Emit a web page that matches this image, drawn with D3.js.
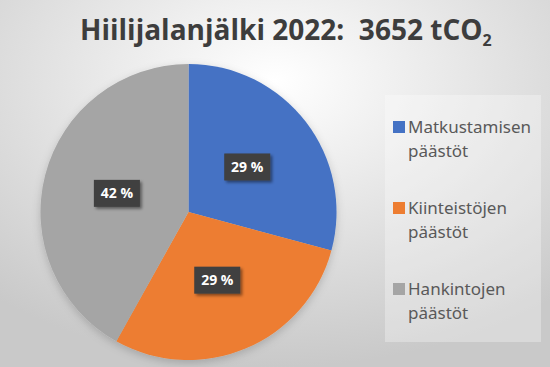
<!DOCTYPE html>
<html>
<head>
<meta charset="utf-8">
<script src="https://cdn.jsdelivr.net/npm/d3@7"></script>
<style>
  html, body { margin: 0; padding: 0; background: #fff; }
  svg { display: block; }
</style>
</head>
<body>
<svg id="chart" width="550" height="367"></svg>
<script>
// categories and values (tCO2)
const categories = ["Matkustamisen päästöt", "Kiinteistöjen päästöt", "Hankintojen päästöt"];
const legendLines = [["Matkustamisen", "päästöt"], ["Kiinteistöjen", "päästöt"], ["Hankintojen", "päästöt"]];
const values = [1066, 1056, 1530];
const colors = ["#4472C4", "#ED7D31", "#A5A5A5"];
const titleText = "Hiilijalanjälki 2022:  3652 tCO";

const svg = d3.select("#chart");
const W = 550, H = 367;

const defs = svg.append("defs");
const bg = defs.append("radialGradient").attr("id", "bg")
  .attr("cx", "50%").attr("cy", "22%").attr("r", "78%");
bg.append("stop").attr("offset", "0%").attr("stop-color", "#ffffff");
bg.append("stop").attr("offset", "100%").attr("stop-color", "#c9c9c9");

defs.append("filter").attr("id", "pieShadow")
  .attr("x", "-10%").attr("y", "-10%").attr("width", "120%").attr("height", "125%")
  .append("feDropShadow").attr("dx", 0).attr("dy", 3).attr("stdDeviation", 4)
  .attr("flood-color", "#000").attr("flood-opacity", 0.18);

defs.append("filter").attr("id", "boxShadow")
  .attr("x", "-20%").attr("y", "-30%").attr("width", "150%").attr("height", "170%")
  .append("feDropShadow").attr("dx", 2).attr("dy", 2).attr("stdDeviation", 1.5)
  .attr("flood-color", "#000").attr("flood-opacity", 0.45);

svg.append("rect").attr("width", W).attr("height", H).attr("fill", "url(#bg)");

// title: one text, subscript as tspan, squeezed to the reference width
const title = svg.append("text")
  .attr("font-family", "'Open Sans', 'Noto Sans', sans-serif")
  .attr("font-weight", "bold").attr("font-size", 28)
  .attr("fill", "#3d3d3d")
  .style("white-space", "pre");
title.append("tspan").attr("x", 0).attr("y", 0).text(titleText);
title.append("tspan").attr("dy", 6).attr("font-size", 16).text("2");
const tw = title.node().getBBox().width;
title.attr("transform", `translate(80,40) scale(${412 / tw},1)`);

// pie
const cx = 188.5, cy = 212, radius = 148;
const total = d3.sum(values);
const data = categories.map((c, i) => ({ name: c, value: values[i], color: colors[i] }));
const pie = d3.pie().sort(null).value(d => d.value);
const arc = d3.arc().innerRadius(0).outerRadius(radius);
const labelArc = d3.arc().innerRadius(radius * 0.5).outerRadius(radius * 0.5);
const arcs = pie(data);

const g = svg.append("g").attr("transform", `translate(${cx},${cy})`);
g.append("g").attr("filter", "url(#pieShadow)")
  .selectAll("path")
  .data(arcs)
  .join("path")
  .attr("fill", d => d.data.color)
  .attr("d", arc);

// data labels
const labels = g.append("g").selectAll("g")
  .data(arcs)
  .join("g")
  .attr("transform", d => `translate(${labelArc.centroid(d)})`);
labels.append("rect")
  .attr("x", -23).attr("y", -13.5).attr("width", 46).attr("height", 27)
  .attr("fill", "#3f3f3f")
  .attr("filter", "url(#boxShadow)");
labels.append("text")
  .attr("text-anchor", "middle").attr("y", 5)
  .attr("font-family", "'Open Sans', 'Noto Sans', sans-serif")
  .attr("font-weight", "bold").attr("font-size", 14)
  .attr("fill", "#ffffff")
  .text(d => Math.round(d.value / total * 100) + " %");

// legend
svg.append("rect")
  .attr("x", 385).attr("y", 95).attr("width", 156).attr("height", 247)
  .attr("fill", "#ffffff").attr("fill-opacity", 0.3);

const ly = d3.scalePoint().domain(categories).range([121, 283]);
const leg = svg.append("g").selectAll("g")
  .data(data)
  .join("g")
  .attr("transform", d => `translate(393,${ly(d.name)})`);
leg.append("rect").attr("width", 12).attr("height", 12).attr("fill", d => d.color);
leg.each(function(d, i) {
  const t = d3.select(this).append("text")
    .attr("font-family", "'Noto Sans', 'Open Sans', sans-serif")
    .attr("font-size", 17).attr("fill", "#595959");
  legendLines[i].forEach((line, j) => {
    t.append("tspan").attr("x", 15).attr("y", 12 + j * 24).text(line);
  });
});
</script>
</body>
</html>
